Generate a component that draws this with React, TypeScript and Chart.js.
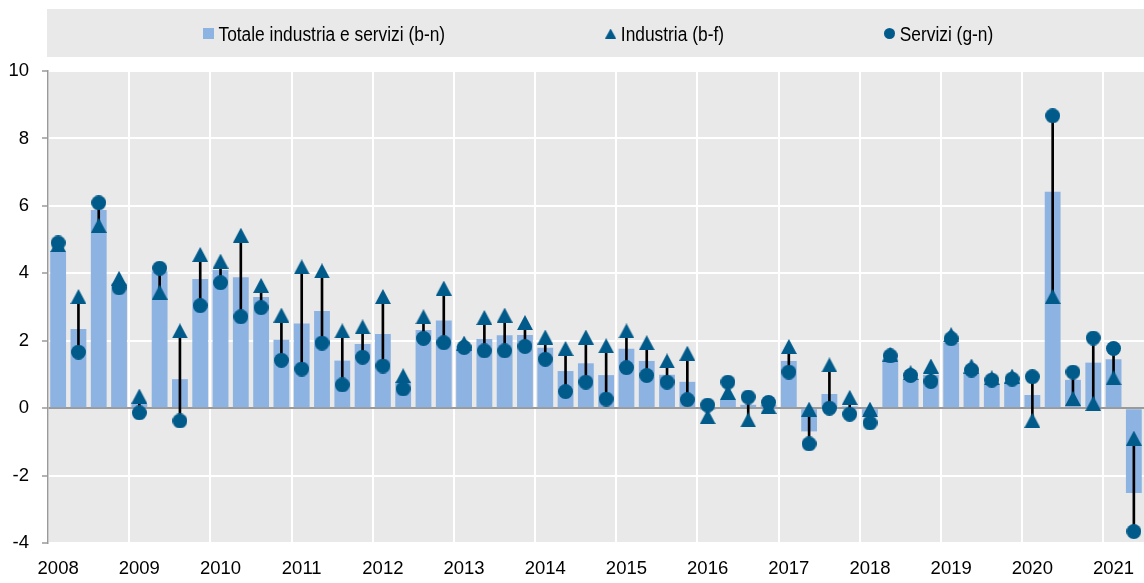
import React, { useEffect, useRef } from 'react';
import { Chart, registerables } from 'chart.js';

Chart.register(...registerables);

// ---- Data ----
const years = [2008, 2009, 2010, 2011, 2012, 2013, 2014, 2015, 2016, 2017, 2018, 2019, 2020, 2021];
const quarterNames = ['T1', 'T2', 'T3', 'T4'];
const nQuarters = 54; // 2008 T1 .. 2021 T2

const totale = [
  4.65, 2.35, 5.88, 3.7,
  0.13, 4.05, 0.86, 3.83,
  4.1, 3.88, 3.3, 2.03,
  2.51, 2.88, 1.41, 1.9,
  2.2, 0.79, 2.32, 2.6,
  1.85, 2.05, 2.16, 2.17,
  1.79, 1.1, 1.33, 0.98,
  1.76, 1.4, 0.99, 0.78,
  -0.05, 0.25, 0.1, 0.1,
  1.4, -0.69, 0.42, 0.05,
  -0.2, 1.45, 0.85, 0.99,
  1.94, 1.03, 0.73, 0.78,
  0.39, 6.42, 0.84, 1.35,
  1.45, -2.52,
];

const industria = [
  4.85, 3.31, 5.42, 3.85,
  0.36, 3.44, 2.29, 4.56,
  4.36, 5.13, 3.64, 2.76,
  4.19, 4.07, 2.29, 2.41,
  3.31, 0.96, 2.71, 3.56,
  1.93, 2.69, 2.76, 2.54,
  2.11, 1.77, 2.11, 1.85,
  2.29, 1.94, 1.4, 1.63,
  -0.25, 0.47, -0.35, 0.05,
  1.83, -0.03, 1.28, 0.32,
  -0.03, 1.6, 1.05, 1.25,
  2.18, 1.25, 0.9, 0.95,
  -0.36, 3.31, 0.29, 0.14,
  0.9, -0.89,
];

const servizi = [
  4.9, 1.66, 6.09, 3.57,
  -0.14, 4.15, -0.38, 3.04,
  3.72, 2.71, 2.98, 1.42,
  1.16, 1.93, 0.69, 1.51,
  1.25, 0.57, 2.07, 1.94,
  1.8, 1.7, 1.7, 1.83,
  1.45, 0.49, 0.77, 0.27,
  1.2, 0.97, 0.77, 0.25,
  0.09, 0.77, 0.33, 0.17,
  1.07, -1.06, 0.0, -0.18,
  -0.44, 1.55, 0.97, 0.79,
  2.06, 1.13, 0.83, 0.86,
  0.93, 8.67, 1.07, 2.08,
  1.77, -3.66,
];

const seriesLabels = ['Totale industria e servizi (b-n)', 'Industria (b-f)', 'Servizi (g-n)'];
const yMin = -4;
const yMax = 10;
const yStep = 2;

// ---- Styles ----
const BAR_COLOR = '#8DB3E2';
const MARK_COLOR = '#005A8A';
const BG = '#E9E9E9';
const AXIS_GRAY = '#9A9A9A';
const FONT_FAMILY = "'Liberation Sans', Arial, sans-serif";

const categories: string[] = [];
for (let i = 0; i < nQuarters; i++) {
  categories.push(`${years[Math.floor(i / 4)]} ${quarterNames[i % 4]}`);
}

function makeMarker(shape: 'rect' | 'triangle' | 'circle', w: number, h: number, color: string) {
  const c = document.createElement('canvas');
  c.width = w;
  c.height = h;
  const g = c.getContext('2d')!;
  g.fillStyle = color;
  g.beginPath();
  if (shape === 'rect') {
    g.rect(0, 0, w, h);
  } else if (shape === 'triangle') {
    g.moveTo(w / 2, 0);
    g.lineTo(w, h);
    g.lineTo(0, h);
    g.closePath();
  } else {
    g.arc(w / 2, h / 2, Math.min(w, h) / 2, 0, Math.PI * 2);
  }
  g.fill();
  return c;
}

export default function App() {
  const canvasRef = useRef<HTMLCanvasElement | null>(null);

  useEffect(() => {
    if (!canvasRef.current) return;

    const triImg = makeMarker('triangle', 16, 15, MARK_COLOR);
    const circImg = makeMarker('circle', 15, 15, MARK_COLOR);
    const legendMarkers = [
      makeMarker('rect', 11, 11, BAR_COLOR),
      makeMarker('triangle', 11, 10, MARK_COLOR),
      makeMarker('circle', 11, 11, MARK_COLOR),
    ];

    const ranges = industria.map((v, i) => [Math.min(v, servizi[i]), Math.max(v, servizi[i])]);

    const bgPlugin = {
      id: 'bgPlugin',
      beforeDraw(chart: any) {
        const { ctx, chartArea } = chart;
        ctx.save();
        ctx.fillStyle = BG;
        ctx.fillRect(chartArea.left, chartArea.top, chartArea.right - chartArea.left, chartArea.bottom - chartArea.top);
        ctx.fillRect(chartArea.left - 1, 9, chart.width - chartArea.left + 1, 48);
        ctx.restore();
      },
      afterDraw(chart: any) {
        const { ctx, chartArea } = chart;
        ctx.save();
        ctx.font = `19.5px ${FONT_FAMILY}`;
        ctx.fillStyle = '#000';
        ctx.textBaseline = 'alphabetic';
        ctx.textAlign = 'left';
        const sx = 0.89; // condensed look
        const markerW = 11;
        const markerGap = 4.7;
        const itemGap = 160;
        const widths = seriesLabels.map((t) => markerW + markerGap + ctx.measureText(t).width * sx);
        const total = widths.reduce((a, b) => a + b, 0) + itemGap * (widths.length - 1);
        let x = (chartArea.left + chartArea.right) / 2 + 2 - total / 2;
        const cy = 33.5;
        seriesLabels.forEach((t, i) => {
          const m = legendMarkers[i];
          ctx.drawImage(m, x, cy - m.height / 2);
          ctx.save();
          ctx.translate(x + markerW + markerGap, 40.7);
          ctx.scale(sx, 1);
          ctx.fillText(t, 0, 0);
          ctx.restore();
          x += widths[i] + itemGap;
        });
        ctx.restore();
      },
    };

    const chart = new Chart(canvasRef.current, {
      type: 'bar',
      data: {
        labels: categories,
        datasets: [
          {
            type: 'line',
            label: seriesLabels[2],
            data: servizi,
            showLine: false,
            pointStyle: circImg as any,
            pointRadius: 8,
            backgroundColor: MARK_COLOR,
            borderColor: MARK_COLOR,
            order: 0,
            clip: false as any,
          },
          {
            type: 'line',
            label: seriesLabels[1],
            data: industria,
            showLine: false,
            pointStyle: triImg as any,
            pointRadius: 8,
            backgroundColor: MARK_COLOR,
            borderColor: MARK_COLOR,
            order: 1,
            clip: false as any,
          },
          {
            type: 'bar',
            label: 'range',
            data: ranges as any,
            backgroundColor: '#000',
            barThickness: 2,
            grouped: false,
            order: 2,
          } as any,
          {
            type: 'bar',
            label: seriesLabels[0],
            data: totale,
            backgroundColor: BAR_COLOR,
            categoryPercentage: 1,
            barPercentage: 0.78,
            grouped: false,
            order: 3,
          } as any,
        ],
      },
      options: {
        animation: false,
        responsive: false,
        maintainAspectRatio: false,
        layout: { padding: { top: 71, left: 0, right: 0, bottom: 0 } },
        plugins: {
          legend: { display: false },
          tooltip: { enabled: false },
          title: { display: false },
        },
        scales: {
          x: {
            offset: true,
            grid: {
              offset: true,
              drawTicks: false,
              lineWidth: 2,
              color: (ctx: any) => (typeof ctx.index === 'number' && ctx.index % 4 === 0 ? '#FFFFFF' : 'rgba(0,0,0,0)'),
            },
            border: { display: false },
            ticks: {
              autoSkip: false,
              maxRotation: 0,
              minRotation: 0,
              padding: 15,
              color: '#000',
              font: { family: FONT_FAMILY, size: 18.5 },
              callback: (_v: any, i: number) => (i % 4 === 0 ? String(years[i / 4]) : ''),
            },
            afterFit: (s: any) => {
              s.height = 40;
            },
          },
          y: {
            min: yMin,
            max: yMax,
            ticks: {
              stepSize: yStep,
              color: '#000',
              font: { family: FONT_FAMILY, size: 18.5 },
              padding: 13,
            },
            grid: {
              lineWidth: 2,
              color: (ctx: any) => (ctx.tick && ctx.tick.value === 0 ? AXIS_GRAY : '#FFFFFF'),
              tickColor: AXIS_GRAY,
              tickLength: 6,
              tickWidth: 1.5,
            },
            border: { display: true, color: AXIS_GRAY, width: 1.5 },
            afterFit: (s: any) => {
              s.width = 48;
            },
          },
        },
      },
      plugins: [bgPlugin],
    });

    return () => chart.destroy();
  }, []);

  return (
    <div style={{ position: 'fixed', left: 0, top: 0, width: 1144, height: 583, overflow: 'hidden', background: '#fff' }}>
      <canvas ref={canvasRef} width={1153} height={583} style={{ width: 1153, height: 583, display: 'block' }} />
    </div>
  );
}
